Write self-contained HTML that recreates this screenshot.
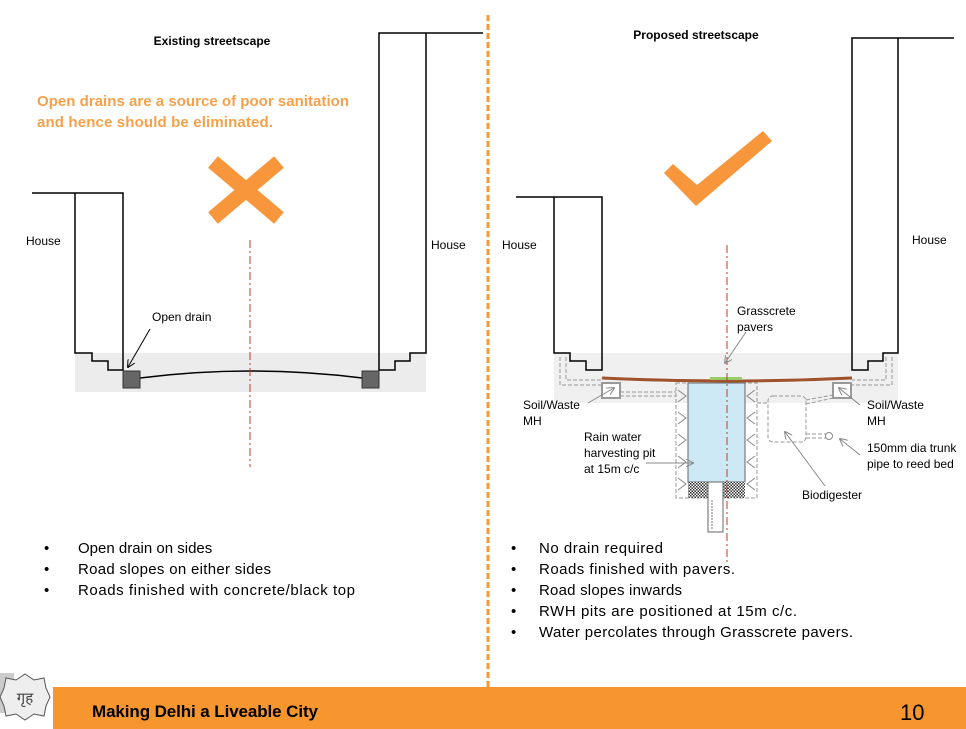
<!DOCTYPE html>
<html><head><meta charset="utf-8"><style>
html,body{margin:0;padding:0;background:#fff;}
svg{display:block;font-family:"Liberation Sans",sans-serif;}
</style></head><body>
<svg width="966" height="729" viewBox="0 0 966 729" xmlns="http://www.w3.org/2000/svg">
<defs>
<pattern id="hatch" width="3" height="3" patternUnits="userSpaceOnUse"><rect width="3" height="3" fill="#fff"/><rect width="1.5" height="1.5" fill="#333"/><rect x="1.5" y="1.5" width="1.5" height="1.5" fill="#333"/></pattern>
<marker id="ah" markerWidth="8" markerHeight="8" refX="7" refY="4" orient="auto"><path d="M0,0 L8,4 L0,8" fill="none" stroke="#000" stroke-width="1"/></marker>
<marker id="ahg" markerWidth="8" markerHeight="8" refX="7" refY="4" orient="auto"><path d="M0,0 L8,4 L0,8" fill="none" stroke="#888" stroke-width="1"/></marker>
</defs>
<!-- divider -->
<line x1="488" y1="15" x2="488" y2="687" stroke="#f39a3c" stroke-width="3" stroke-dasharray="6,3"/>

<!-- LEFT PANEL -->
<text x="212" y="45" font-size="12" font-weight="bold" text-anchor="middle">Existing  streetscape</text>
<text x="37" y="106" font-size="15" font-weight="bold" fill="#f7a04a" textLength="312">Open drains are a source of poor sanitation</text>
<text x="37" y="127" font-size="15" font-weight="bold" fill="#f7a04a" textLength="236">and hence should be eliminated.</text>
<g stroke="#f7963a" stroke-width="15"><line x1="213" y1="162" x2="279" y2="218"/><line x1="279" y1="162" x2="213" y2="218"/></g>
<rect x="75" y="353" width="351" height="39" fill="#ececec"/>
<g fill="none" stroke="#000" stroke-width="1.5">
<path d="M32,193 H123 V370 H108 V361 H92 V353 H75 V193"/>
<path d="M483,33 H379 V370 H395 V361 H410 V353 H426 V33"/>
<path d="M140,378 Q250,364 362,378"/>
</g>
<rect x="123" y="371" width="17" height="17" fill="#666" stroke="#333"/>
<rect x="362" y="371" width="17" height="17" fill="#666" stroke="#333"/>
<line x1="250" y1="240" x2="250" y2="467" stroke="#c0392b" stroke-width="1" stroke-dasharray="8,3,2,3"/>
<text x="26" y="245" font-size="12">House</text>
<text x="431" y="249" font-size="12">House</text>
<text x="152" y="321" font-size="12">Open drain</text>
<line x1="150" y1="329" x2="128" y2="367" stroke="#000" stroke-width="1" marker-end="url(#ah)"/>
<g font-size="15">
<text x="44" y="553">•</text><text x="78" y="553">Open drain on sides</text>
<text x="44" y="574">•</text><text x="78" y="574" textLength="193">Road slopes on either sides</text>
<text x="44" y="595">•</text><text x="78" y="595" textLength="277">Roads finished with concrete/black top</text>
</g>

<!-- RIGHT PANEL -->
<text x="696" y="39" font-size="12" font-weight="bold" text-anchor="middle">Proposed streetscape</text>
<polygon points="664,173 673,164 697,185 763,131 772,141 696,206" fill="#f7963a"/>
<rect x="554" y="353" width="344" height="50" fill="#f0f0f0"/>
<g fill="none" stroke="#999" stroke-width="1" stroke-dasharray="4,2">
<path d="M560,357 V385 H602"/><path d="M566,357 V380 H602"/>
<path d="M892,357 V385 H852"/><path d="M886,357 V380 H852"/>
<path d="M620,396 H676"/><path d="M620,392 H676"/>
<path d="M757,403 H768"/><path d="M806,400 L833,395"/><path d="M806,404 L833,398"/>
<path d="M806,434 H826"/><path d="M806,438 H826"/>
<rect x="768" y="396" width="38" height="46" rx="5"/>
<rect x="676" y="383" width="81" height="115"/>
</g>
<circle cx="829" cy="436" r="3.5" fill="none" stroke="#888"/>
<g fill="none" stroke="#000" stroke-width="1.5">
<path d="M516,197 H602 V370 H586 V361 H570 V353 H554 V197"/>
<path d="M954,38 H852 V370 H868 V361 H883 V353 H898 V38"/>
</g>
<path d="M602,378 Q727,384 852,378" fill="none" stroke="#a0522d" stroke-width="3"/>
<rect x="710" y="377" width="32" height="3" fill="#9c6"/>
<rect x="688" y="383" width="57" height="99" fill="#cde9f5" stroke="#666" stroke-width="1"/>
<g stroke="#888" fill="none" stroke-width="1"><path d="M678,390 l8,6 -8,6 m0,10 l8,6 -8,6 m0,10 l8,6 -8,6 m0,10 l8,6 -8,6 m0,10 l8,6 -8,6"/><path d="M755,390 l-8,6 8,6 m0,10 l-8,6 8,6 m0,10 l-8,6 8,6 m0,10 l-8,6 8,6 m0,10 l-8,6 8,6"/></g>
<rect x="688" y="482" width="57" height="16" fill="url(#hatch)"/>
<rect x="708" y="482" width="15" height="50" fill="#fff" stroke="#666"/>
<line x1="712" y1="500" x2="712" y2="530" stroke="#777" stroke-dasharray="2,1"/>
<rect x="602" y="383" width="18" height="15" fill="#fff" stroke="#999" stroke-width="2"/>
<rect x="833" y="383" width="18" height="15" fill="#fff" stroke="#999" stroke-width="2"/>
<line x1="727" y1="245" x2="727" y2="565" stroke="#c0392b" stroke-width="1" stroke-dasharray="8,3,2,3"/>
<g stroke="#888" stroke-width="1" fill="none">
<line x1="746" y1="332" x2="725" y2="363" marker-end="url(#ahg)"/>
<line x1="588" y1="403" x2="614" y2="388" marker-end="url(#ahg)"/>
<line x1="860" y1="405" x2="839" y2="388" marker-end="url(#ahg)"/>
<line x1="646" y1="463" x2="693" y2="463" marker-end="url(#ahg)"/>
<line x1="825" y1="486" x2="785" y2="432" marker-end="url(#ahg)"/>
<line x1="860" y1="455" x2="840" y2="439" marker-end="url(#ahg)"/>
</g>
<g font-size="12">
<text x="502" y="249">House</text>
<text x="912" y="244">House</text>
<text x="737" y="315">Grasscrete</text>
<text x="737" y="331">pavers</text>
<text x="523" y="409">Soil/Waste</text><text x="523" y="425">MH</text>
<text x="867" y="409">Soil/Waste</text><text x="867" y="425">MH</text>
<text x="584" y="441">Rain water</text>
<text x="584" y="457">harvesting pit</text>
<text x="584" y="473">at 15m c/c</text>
<text x="867" y="452">150mm dia trunk</text>
<text x="867" y="468">pipe to reed bed</text>
<text x="802" y="499">Biodigester</text>
</g>
<g font-size="15">
<text x="511" y="553">•</text><text x="539" y="553" textLength="124">No drain required</text>
<text x="511" y="574">•</text><text x="539" y="574" textLength="196">Roads  finished with pavers.</text>
<text x="511" y="595">•</text><text x="539" y="595" textLength="143">Road slopes inwards</text>
<text x="511" y="616">•</text><text x="539" y="616" textLength="258">RWH pits are positioned at  15m c/c.</text>
<text x="511" y="637">•</text><text x="539" y="637" textLength="314">Water percolates through Grasscrete pavers.</text>
</g>

<!-- FOOTER -->
<rect x="53" y="687" width="913" height="42" fill="#f7962e"/>
<text x="92" y="717" font-size="17" font-weight="bold" textLength="226">Making Delhi a Liveable City</text>
<text x="900" y="720" font-size="22">10</text>
<rect x="0" y="673" width="14" height="40" fill="#ccc"/>
<polygon points="25,674 34,680 44,678 46,688 50,697 46,706 44,716 34,714 25,720 16,714 6,716 4,706 0,697 4,688 6,678 16,680" fill="#eee" stroke="#555" stroke-width="1"/>
<text x="25" y="703" font-size="15" text-anchor="middle" fill="#444" font-family="'Liberation Serif',serif">गृह</text>
</svg>
</body></html>
